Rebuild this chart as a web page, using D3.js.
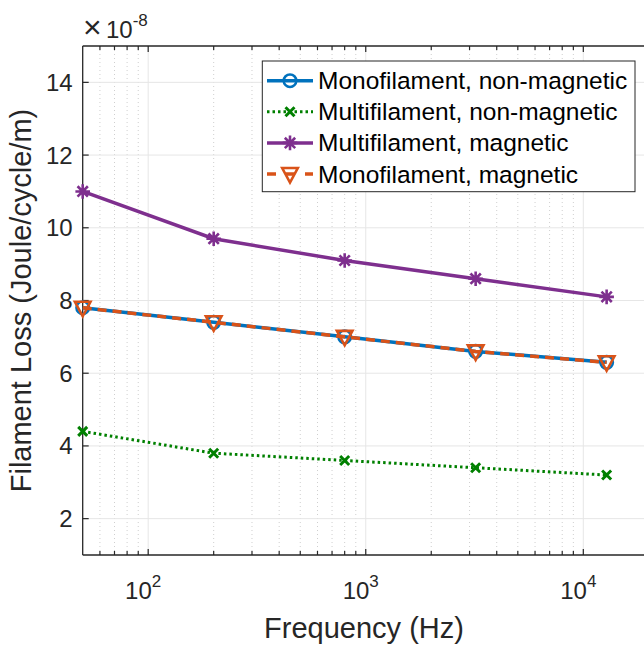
<!DOCTYPE html>
<html>
<head>
<meta charset="utf-8">
<script src="https://cdn.jsdelivr.net/npm/d3@7"></script>
<style>
body { margin: 0; background: #fff; }
text { font-family: "Liberation Sans", Arial, sans-serif; fill: #262626; }
</style>
</head>
<body>
<script>
// chart data
var freqs = [50, 200, 800, 3200, 12800];
var monoNonMag = [7.8, 7.4, 7.0, 6.6, 6.3];
var multiNonMag = [4.4, 3.8, 3.6, 3.4, 3.2];
var multiMag = [11.0, 9.7, 9.1, 8.6, 8.1];
var monoMag = [7.8, 7.4, 7.0, 6.6, 6.3];
var yTicks = [2, 4, 6, 8, 10, 12, 14];
var xMajor = [100, 1000, 10000];
var seriesNames = ['Monofilament, non-magnetic', 'Multifilament, non-magnetic',
	'Multifilament, magnetic', 'Monofilament, magnetic'];

var w = 644, h = 645;
var pLeft = 82.7, pRight = 648.8, pTop = 46, pBottom = 555;

var svg = d3.select('body').append('svg')
	.attr('width', w)
	.attr('height', h);

var x = d3.scaleLog().domain([50, 20000]).range([pLeft, pRight]);
var y = d3.scaleLinear().domain([1, 15]).range([pBottom, pTop]);

// minor x grid
var minor = x.ticks().filter(function(d){
	return xMajor.indexOf(d) < 0 && d > 50 && d < 20000;
});
svg.selectAll('line.minor')
	.data(minor).enter().append('line')
	.attr('x1', function(d){ return x(d); })
	.attr('x2', function(d){ return x(d); })
	.attr('y1', pTop).attr('y2', pBottom)
	.attr('stroke', '#cfcfcf')
	.attr('stroke-width', 1)
	.attr('stroke-dasharray', '1,3');

// major grid
svg.selectAll('line.xmaj')
	.data(xMajor).enter().append('line')
	.attr('x1', function(d){ return x(d); })
	.attr('x2', function(d){ return x(d); })
	.attr('y1', pTop).attr('y2', pBottom)
	.attr('stroke', '#e6e6e6').attr('stroke-width', 1);
svg.selectAll('line.ymaj')
	.data(yTicks).enter().append('line')
	.attr('x1', pLeft).attr('x2', pRight)
	.attr('y1', function(d){ return y(d); })
	.attr('y2', function(d){ return y(d); })
	.attr('stroke', '#e6e6e6').attr('stroke-width', 1);

// axes box lines
svg.append('line').attr('x1', pLeft).attr('x2', pRight).attr('y1', pBottom).attr('y2', pBottom)
	.attr('stroke', '#262626').attr('stroke-width', 1.3);
svg.append('line').attr('x1', pLeft).attr('x2', pRight).attr('y1', pTop).attr('y2', pTop)
	.attr('stroke', '#262626').attr('stroke-width', 1.3);
svg.append('line').attr('x1', pLeft).attr('x2', pLeft).attr('y1', pTop).attr('y2', pBottom)
	.attr('stroke', '#262626').attr('stroke-width', 1.3);

// x ticks (inward, top and bottom)
var allX = minor.concat(xMajor);
[pBottom, pTop].forEach(function(yy, k){
	var dir = k === 0 ? -1 : 1;
	svg.selectAll(null)
		.data(allX).enter().append('line')
		.attr('x1', function(d){ return x(d); })
		.attr('x2', function(d){ return x(d); })
		.attr('y1', yy)
		.attr('y2', function(d){ return yy + dir * (xMajor.indexOf(d) >= 0 ? 6 : 4); })
		.attr('stroke', '#262626').attr('stroke-width', 1.2);
});
// y ticks
svg.selectAll(null)
	.data(yTicks).enter().append('line')
	.attr('x1', pLeft).attr('x2', pLeft + 6)
	.attr('y1', function(d){ return y(d); })
	.attr('y2', function(d){ return y(d); })
	.attr('stroke', '#262626').attr('stroke-width', 1.2);

// tick labels
svg.selectAll('text.ytick')
	.data(yTicks).enter().append('text')
	.attr('x', pLeft - 10)
	.attr('y', function(d){ return y(d) + 8.5; })
	.attr('text-anchor', 'end')
	.attr('font-size', '24px')
	.text(function(d){ return d; });

var xl = svg.selectAll('text.xtick')
	.data(xMajor).enter().append('text')
	.attr('x', function(d){ return x(d) - 5; })
	.attr('y', 599)
	.attr('text-anchor', 'middle')
	.attr('font-size', '24px');
xl.append('tspan').text('10');
xl.append('tspan').attr('dy', -12).attr('font-size', '17px')
	.text(function(d){ return Math.round(Math.log10(d)); });

// exponent label
var ex = svg.append('text').attr('y', 38).attr('font-size', '24px');
ex.append('tspan').attr('x', 83).attr('font-size', '32px').text('\u00d7');
ex.append('tspan').attr('x', 106).text('10');
ex.append('tspan').attr('dy', -12).attr('font-size', '17px').text('-8');

// axis labels
svg.append('text')
	.attr('x', 364)
	.attr('y', 638)
	.attr('text-anchor', 'middle')
	.attr('font-size', '29px')
	.text('Frequency (Hz)');
svg.append('text')
	.attr('transform', 'translate(31,' + ((pTop + pBottom) / 2) + ') rotate(-90)')
	.attr('text-anchor', 'middle')
	.attr('font-size', '29px')
	.text('Filament Loss (Joule/cycle/m)');

// series
var series = [
	{ name: seriesNames[0], vals: monoNonMag, color: '#0072BD', dash: null, marker: 'circle' },
	{ name: seriesNames[1], vals: multiNonMag, color: '#008000', dash: '2.5,3', marker: 'x' },
	{ name: seriesNames[2], vals: multiMag, color: '#7E2F8E', dash: null, marker: 'star' },
	{ name: seriesNames[3], vals: monoMag, color: '#D95319', dash: '9,6', marker: 'tri' }
];

var line = d3.line()
	.x(function(d){ return x(d[0]); })
	.y(function(d){ return y(d[1]); });

function drawMarker(g, type, color, cx, cy) {
	if (type === 'circle') {
		g.append('circle').attr('cx', cx).attr('cy', cy).attr('r', 6.3)
			.attr('fill', 'none').attr('stroke', color).attr('stroke-width', 2.5);
	} else if (type === 'x') {
		g.append('path')
			.attr('d', 'M' + (cx - 4.5) + ',' + (cy - 4.5) + 'L' + (cx + 4.5) + ',' + (cy + 4.5) +
				'M' + (cx - 4.5) + ',' + (cy + 4.5) + 'L' + (cx + 4.5) + ',' + (cy - 4.5))
			.attr('stroke', color).attr('stroke-width', 3);
	} else if (type === 'star') {
		var r = 7.3, p = '';
		for (var i = 0; i < 4; i++) {
			var a = i * Math.PI / 4;
			p += 'M' + (cx - r * Math.cos(a)) + ',' + (cy - r * Math.sin(a)) +
				'L' + (cx + r * Math.cos(a)) + ',' + (cy + r * Math.sin(a));
		}
		g.append('path').attr('d', p).attr('stroke', color).attr('stroke-width', 2.6);
	} else if (type === 'tri') {
		g.append('path')
			.attr('d', 'M' + (cx - 7.8) + ',' + (cy - 6) + 'L' + (cx + 7.8) + ',' + (cy - 6) +
				'L' + cx + ',' + (cy + 8.5) + 'Z')
			.attr('fill', 'none').attr('stroke', color).attr('stroke-width', 2.6)
			.attr('stroke-linejoin', 'miter');
	}
}

series.forEach(function(s){
	var pts = freqs.map(function(f, i){ return [f, s.vals[i]]; });
	var g = svg.append('g');
	g.append('path')
		.attr('d', line(pts))
		.attr('fill', 'none')
		.attr('stroke', s.color)
		.attr('stroke-width', s.marker === 'x' ? 3 : 3.5)
		.attr('stroke-dasharray', s.dash);
	pts.forEach(function(p){
		drawMarker(g, s.marker, s.color, x(p[0]), y(p[1]));
	});
});

// legend
var lg = svg.append('g');
lg.append('rect')
	.attr('x', 262.3).attr('y', 61)
	.attr('width', 372.7).attr('height', 130.7)
	.attr('fill', '#fff').attr('stroke', '#262626').attr('stroke-width', 1);
series.forEach(function(s, i){
	var cy = 80.7 + i * 31.1;
	lg.append('line')
		.attr('x1', 267).attr('x2', 313)
		.attr('y1', cy).attr('y2', cy)
		.attr('stroke', s.color)
		.attr('stroke-width', s.marker === 'x' ? 3 : 3.5)
		.attr('stroke-dasharray', s.marker === 'tri' ? '9,10' : s.dash);
	drawMarker(lg, s.marker, s.color, 290, cy);
	lg.append('text')
		.attr('x', 318)
		.attr('y', cy + 8.5)
		.attr('font-size', '24.5px')
		.style('fill', '#000')
		.text(s.name);
});
</script>
</body>
</html>
